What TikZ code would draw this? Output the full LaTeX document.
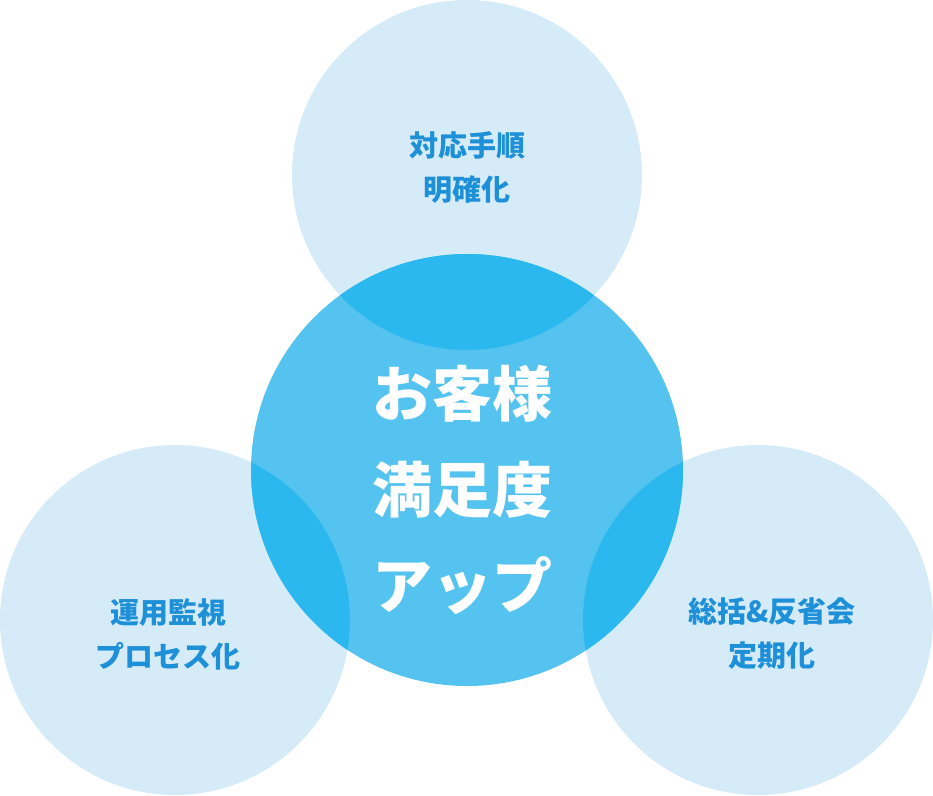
\documentclass[tikz,border=0pt]{standalone}
\usepackage{fontspec}
\newfontfamily\cjk{Noto Sans CJK JP}
\definecolor{light}{HTML}{D5ECF8}
\definecolor{mid}{HTML}{55C3F0}
\definecolor{dark}{HTML}{2AB8EE}
\definecolor{txt}{HTML}{1E90D8}
\tikzset{outer/.style={font=\cjk\bfseries\fontsize{29}{44}\selectfont,text=txt,align=center},
inner/.style={font=\cjk\bfseries\fontsize{60}{96}\selectfont,text=white,align=center}}
\begin{document}
\begin{tikzpicture}[x=1pt,y=-1pt]
\useasboundingbox (0,0) rectangle (933,795);
\def\R{175}
\fill[light] (467,175) circle (\R);
\fill[light] (175,620) circle (\R);
\fill[light] (758,620) circle (\R);
\fill[mid] (467,470) circle (216);
\begin{scope}
\clip (467,470) circle (216);
\fill[dark] (467,175) circle (\R);
\fill[dark] (175,620) circle (\R);
\fill[dark] (758,620) circle (\R);
\end{scope}
\node[outer] (t) at (467,168) {対応手順\\明確化};
\node[outer] (l) at (168,634) {運用監視\\プロセス化};
\node[outer] (r) at (772,634) {総括\&反省会\\定期化};
\node[inner] (c) at (462,490) {お客様\\満足度\\アップ};
\end{tikzpicture}
\end{document}
